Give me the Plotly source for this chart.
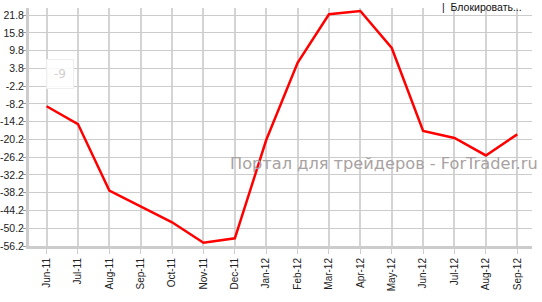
import plotly.graph_objects as go

months = ["Jun-11", "Jul-11", "Aug-11", "Sep-11", "Oct-11", "Nov-11", "Dec-11",
          "Jan-12", "Feb-12", "Mar-12", "Apr-12", "May-12", "Jun-12", "Jul-12",
          "Aug-12", "Sep-12"]
values = [-9.0, -15.0, -37.5, -42.8, -48.2, -55.1, -53.6,
          -20.4, 5.7, 22.1, 23.2, 10.7, -17.3, -19.7, -25.6, -18.5]
y_ticks = [21.8, 15.8, 9.8, 3.8, -2.2, -8.2, -14.2, -20.2, -26.2, -32.2,
           -38.2, -44.2, -50.2, -56.2]
y_tick_text = [f"{v:.1f}" for v in y_ticks]

x_idx = list(range(len(months)))

fig = go.Figure()
fig.add_trace(go.Scatter(
    x=x_idx, y=values, mode="lines",
    line=dict(color="#ff0000", width=2.5),
    hoverinfo="skip", showlegend=False,
))

fig.update_layout(
    width=542, height=302,
    margin=dict(l=29, r=10, t=8, b=56),
    paper_bgcolor="white", plot_bgcolor="white",
    showlegend=False,
    xaxis=dict(
        range=[-0.56, 15.47],
        tickmode="array", tickvals=x_idx, ticktext=months,
        tickangle=-90, automargin=False,
        tickfont=dict(family="Liberation Sans, Arial", size=10, color="#222222"),
        showgrid=True, gridcolor="#d4d4d4", gridwidth=1.5,
        showline=True, linecolor="#cccccc", linewidth=3,
        ticks="outside", ticklen=5, tickcolor="#cccccc", tickwidth=1,
        zeroline=False, fixedrange=True,
    ),
    yaxis=dict(
        range=[-56.2, 24.2],
        tickmode="array", tickvals=y_ticks, ticktext=y_tick_text,
        automargin=False, ticklabelstandoff=-3,
        tickfont=dict(family="Liberation Sans, Arial", size=10.5, color="#222222"),
        showgrid=True, gridcolor="#cccccc", gridwidth=1,
        showline=True, linecolor="#cccccc", linewidth=3,
        ticks="outside", ticklen=3, tickcolor="#999999", tickwidth=1,
        zeroline=False, fixedrange=True,
    ),
    annotations=[
        dict(text="Портал для трейдеров - ForTrader.ru",
             xref="paper", yref="paper", x=1.016, y=0.345,
             xanchor="right", yanchor="middle", showarrow=False,
             font=dict(family="DejaVu Sans", size=16.2, color="#a8a2a2")),
        dict(text="-9", xref="x", yref="y", x=0.44, y=1.8,
             xanchor="center", yanchor="middle", showarrow=False,
             font=dict(family="DejaVu Sans", size=12, color="#d0d0d0"),
             bgcolor="rgba(255,255,255,0.85)", bordercolor="#eeeeee",
             borderwidth=1, borderpad=7),
        dict(text="|  Блокировать...", xref="paper", yref="paper",
             x=0.983, y=1.006, xanchor="right", yanchor="middle",
             showarrow=False, borderpad=0,
             font=dict(family="Liberation Sans, Arial", size=10.5, color="#111111")),
    ],
)

fig.write_html("out.html")
